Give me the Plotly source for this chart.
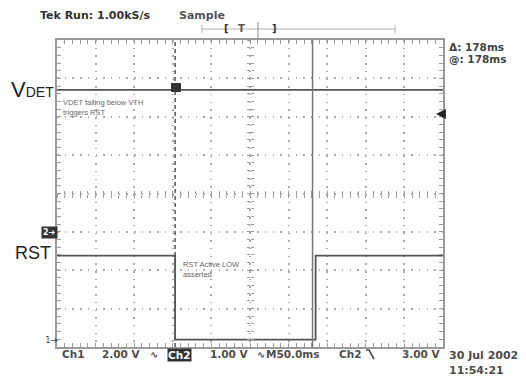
import plotly.graph_objects as go

# Scope settings (10 horizontal divisions, 8 vertical divisions)
ms_per_div = 50.0
x_range = [0.0, 500.0]
y_range = [-4.0, 4.0]

# Channel 1: VDET trace, in screen divisions from the centre line
vdet_time = [0.0, 500.0]
vdet_level = [2.70, 2.70]

# Channel 2: RST trace, in screen divisions from the centre line
rst_time = [0.0, 153.0, 153.0, 335.0, 335.0, 500.0]
rst_level = [-1.62, -1.62, -3.81, -3.81, -1.62, -1.62]

# Cursor positions (ms)
cursor_a = 153.0
cursor_b = 331.0
delta_ms = cursor_b - cursor_a

# Plot box in pixels
L, R, T, B = 57, 443, 40, 347
W, H = 526, 377


def px(x):
    return (x - L) / (R - L)


def py(y):
    return (B - y) / (B - T)


TRACE = "#555555"
GRID = "#ababab"
FRAME = "#9a9a9a"
TEXT = "#4d4d4d"

fig = go.Figure()

fig.add_trace(go.Scatter(x=vdet_time, y=vdet_level, mode="lines",
                         line=dict(color=TRACE, width=1.8), showlegend=False,
                         hoverinfo="skip"))
fig.add_trace(go.Scatter(x=rst_time, y=rst_level, mode="lines",
                         line=dict(color=TRACE, width=1.8), showlegend=False,
                         hoverinfo="skip"))

axis_common = dict(showline=True, mirror="allticks", linecolor=FRAME, linewidth=1.5,
                   ticks="inside", ticklen=4, tickcolor=FRAME, tickwidth=1,
                   showticklabels=False, zeroline=False,
                   showgrid=True, gridcolor=GRID, gridwidth=1.5,
                   griddash="1.5px,6.2px", fixedrange=True)

fig.update_layout(
    width=W, height=H,
    margin=dict(l=L, r=W - R, t=T, b=H - B),
    paper_bgcolor="white", plot_bgcolor="white",
    xaxis=dict(range=x_range, dtick=ms_per_div,
               minor=dict(dtick=ms_per_div / 5, ticks="inside", ticklen=4,
                          tickcolor=FRAME, showgrid=False),
               **axis_common),
    yaxis=dict(range=y_range, dtick=1,
               minor=dict(dtick=0.2, ticks="inside", ticklen=4,
                          tickcolor=FRAME, showgrid=False),
               **axis_common),
)

# Centre cross with small ticks on both sides
centre = dict(showline=False, showgrid=False, zeroline=False, showticklabels=False,
              ticklen=3, tickcolor=FRAME, tickwidth=1, fixedrange=True)
fig.update_layout(
    xaxis2=dict(overlaying="x", anchor="free", position=0.5, range=x_range,
                dtick=ms_per_div / 5, ticks="outside", **centre),
    xaxis3=dict(overlaying="x", anchor="free", position=0.5, range=x_range,
                dtick=ms_per_div / 5, ticks="inside", **centre),
    yaxis2=dict(overlaying="y", anchor="free", position=0.5, range=y_range,
                dtick=0.2, ticks="outside", **centre),
    yaxis3=dict(overlaying="y", anchor="free", position=0.5, range=y_range,
                dtick=0.2, ticks="inside", **centre),
)
# empty traces so the centre axes are drawn
for xa, ya in [("x2", "y"), ("x3", "y"), ("x", "y2"), ("x", "y3")]:
    fig.add_trace(go.Scatter(x=[None], y=[None], xaxis=xa, yaxis=ya,
                             showlegend=False, hoverinfo="skip"))

# Cursors
fig.add_shape(type="line", x0=cursor_a, x1=cursor_a, y0=0, y1=1, xref="x", yref="paper",
              line=dict(color="#555555", width=1.5, dash="4px,3px"))
fig.add_shape(type="line", x0=cursor_b, x1=cursor_b, y0=0, y1=1, xref="x", yref="paper",
              line=dict(color="#777777", width=1.5))

# Trigger point marker
fig.add_shape(type="rect", xref="paper", yref="paper",
              x0=px(171), x1=px(181), y0=py(92), y1=py(83),
              fillcolor="#333333", line=dict(width=0))

# Trigger position bar on top
bar_y = py(29)
fig.add_shape(type="line", xref="paper", yref="paper", x0=px(202), x1=px(395),
              y0=bar_y, y1=bar_y, line=dict(color="#b0b0b0", width=1))
for xx in (202, 395):
    fig.add_shape(type="line", xref="paper", yref="paper", x0=px(xx), x1=px(xx),
                  y0=py(25), y1=py(33), line=dict(color="#b0b0b0", width=1))
fig.add_shape(type="line", xref="paper", yref="paper", x0=px(258), x1=px(258),
              y0=py(22), y1=py(40), line=dict(color="#888888", width=1))

# Trigger slope glyph in the status line
fig.add_shape(type="path", xref="paper", yref="paper",
              path=f"M {px(366)},{py(350)} L {px(369)},{py(350)} L {px(374)},{py(359)}",
              line=dict(color=TEXT, width=1.6))

ann = []


def text(x, y, s, size=11, color=TEXT, family="DejaVu Sans", weight="bold",
         xanchor="left", **kw):
    ann.append(dict(x=px(x), y=py(y), xref="paper", yref="paper", text=s,
                    showarrow=False, xanchor=xanchor, yanchor="middle",
                    font=dict(size=size, color=color, family=family, weight=weight), **kw))


text(38, 16, "Tek Run: 1.00kS/s", size=11, color="#333333")
text(177, 16, "Sample", size=11, color="#555555")
text(222, 29, "[", size=10, color="#333333")
text(236, 29, "T", size=10, color="#555555")
text(270, 29, "]", size=10, color="#333333")

text(447, 47, f"Δ: {delta_ms:.0f}ms", size=10.5, color="#444444")
text(447, 59, f"@: {delta_ms:.0f}ms", size=10.5, color="#444444")

text(9, 90, "V<span style='font-size:14px'>DET</span>", size=22, color="#222222",
     family="Liberation Sans", weight="normal")
text(13, 253, "RST", size=18, color="#222222", family="Liberation Sans", weight="normal")

text(61, 107, "VDET falling below VTH<br>triggers RST", size=7.5, color="#666666",
     family="Liberation Sans", weight="normal", align="left")
text(181, 269, "RST Active LOW<br>asserted", size=7.5, color="#666666",
     family="Liberation Sans", weight="normal", align="left")

# Channel ground markers
text(41, 232, "2➔", size=8, color="white", bgcolor="#333333", borderpad=1)
text(43, 340, "1➔", size=9, color="#555555", weight="normal")

# Status line
text(60, 354, "Ch1", size=10.5)
text(100, 354, "2.00 V", size=10.5)
text(148, 354, "∿", size=10)
text(167, 355, "Ch2", size=10.5, color="white", bgcolor="#333333", borderpad=0)
text(208, 354, "1.00 V", size=10.5)
text(255, 354, "∿", size=10)
text(264, 354, "M50.0ms", size=10.5)
text(337, 354, "Ch2", size=10.5)
text(400, 354, "3.00 V", size=10.5)
text(447, 355, "30 Jul 2002", size=11)
text(447, 370, "11:54:21", size=11)

# Trigger level arrow on the right edge
ann.append(dict(x=px(436), y=py(114), xref="paper", yref="paper", text="",
                showarrow=True, ax=9, ay=0, arrowhead=2, arrowsize=1.1, arrowwidth=1.8,
                arrowcolor="#222222"))

fig.update_layout(annotations=ann)

fig.write_html("out.html")
